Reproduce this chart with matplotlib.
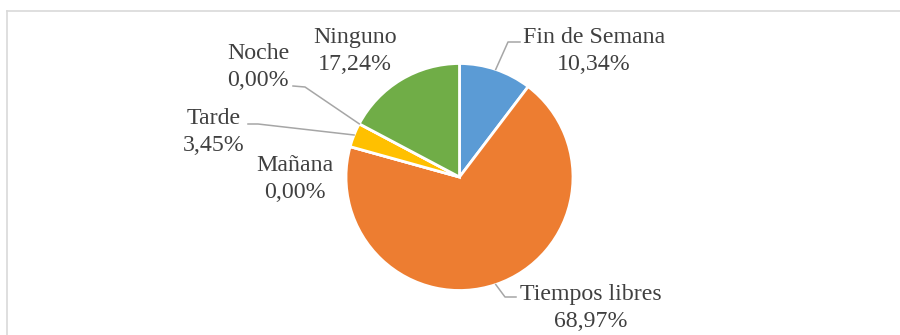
import numpy as np
import matplotlib
matplotlib.use("Agg")
import matplotlib.pyplot as plt
from matplotlib.lines import Line2D

categories = ["Fin de Semana", "Tiempos libres", "Mañana", "Tarde", "Noche", "Ninguno"]
shares = [10.34, 68.97, 0.00, 3.45, 0.00, 17.24]
colors = ["#5B9BD5", "#ED7D31", "#A5A5A5", "#FFC000", "#4472C4", "#70AD47"]

W, H = 900, 335
fig = plt.figure(figsize=(W / 100, H / 100), dpi=100)
fig.patch.set_facecolor("white")

# pie geometry in pixels (origin top-left)
cx, cy, r = 459.5, 177.0, 113.5
ax = fig.add_axes([(cx - r) / W, (H - cy - r) / H, 2 * r / W, 2 * r / H])
ax.pie(shares, colors=colors, startangle=90, counterclock=False,
       wedgeprops=dict(edgecolor="white", linewidth=2))
ax.set_xlim(-1, 1)
ax.set_ylim(-1, 1)
ax.set_aspect("auto")
ax.axis("off")

# overlay in pixel coordinates for labels, leaders and frame
ov = fig.add_axes([0, 0, 1, 1], zorder=5)
ov.set_xlim(0, W)
ov.set_ylim(H, 0)
ov.axis("off")
ov.patch.set_alpha(0)

# chart frame (top and left edges visible)
ov.add_line(Line2D([7, W + 5], [11, 11], color="#D9D9D9", lw=1.2))
ov.add_line(Line2D([7, 7], [11, H + 5], color="#D9D9D9", lw=1.2))

# label block centres and leader elbows
label_pos = {
    "Fin de Semana": (594, 51),
    "Tiempos libres": (591, 308),
    "Mañana": (295, 179),
    "Tarde": (214, 132),
    "Noche": (258, 67),
    "Ninguno": (355, 51),
}
leaders = {
    "Fin de Semana": [(508, 42), (520, 42)],
    "Tiempos libres": [(505, 297), (516, 297)],
    "Tarde": [(258, 124), (248, 124)],
    "Noche": [(305, 87), (293, 86)],
}

text_color = "#404040"
cum = 0.0
total = sum(shares)
for name, v in zip(categories, shares):
    mid = cum + v / 2
    cum += v
    ang = np.deg2rad(90 - 360 * mid / total)
    x0 = cx + r * np.cos(ang)
    y0 = cy - r * np.sin(ang)
    if name in leaders:
        xs = [x0] + [p[0] for p in leaders[name]]
        ys = [y0] + [p[1] for p in leaders[name]]
        ov.add_line(Line2D(xs, ys, color="#A6A6A6", lw=1.1))
    lx, ly = label_pos[name]
    pct = f"{v:.2f}%".replace(".", ",")
    ov.text(lx, ly, f"{name}\n{pct}", ha="center", va="center",
            multialignment="center", fontsize=17.2, color=text_color,
            family=["Liberation Serif", "DejaVu Serif"], linespacing=1.4)

fig.savefig("out.png", dpi=100, facecolor="white")
